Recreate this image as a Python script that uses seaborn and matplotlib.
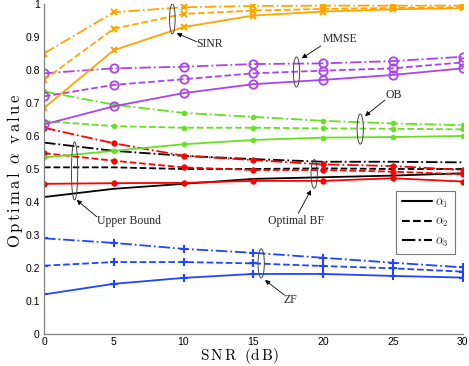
import matplotlib
matplotlib.use("Agg")
import matplotlib.pyplot as plt
from matplotlib.patches import Ellipse
from matplotlib.lines import Line2D
import seaborn as sns
import pandas as pd

sns.set_theme(style="white")
plt.rcParams['mathtext.fontset'] = 'cm'
plt.rcParams['font.family'] = ['Liberation Sans', 'DejaVu Sans']

snr = [0, 5, 10, 15, 20, 25, 30]

sinr_a1 = [0.685, 0.860, 0.930, 0.965, 0.977, 0.984, 0.987]
sinr_a2 = [0.770, 0.925, 0.970, 0.980, 0.985, 0.988, 0.990]
sinr_a3 = [0.850, 0.975, 0.990, 0.994, 0.995, 0.995, 0.995]

mmse_a1 = [0.635, 0.690, 0.730, 0.757, 0.770, 0.785, 0.805]
mmse_a2 = [0.720, 0.755, 0.772, 0.790, 0.798, 0.805, 0.823]
mmse_a3 = [0.790, 0.805, 0.810, 0.818, 0.820, 0.827, 0.840]

ob_a1 = [0.535, 0.555, 0.575, 0.588, 0.595, 0.597, 0.600]
ob_a2 = [0.645, 0.630, 0.625, 0.625, 0.623, 0.622, 0.620]
ob_a3 = [0.735, 0.695, 0.670, 0.658, 0.646, 0.638, 0.633]

bf_a1 = [0.455, 0.457, 0.458, 0.464, 0.464, 0.472, 0.462]
bf_a2 = [0.548, 0.525, 0.505, 0.497, 0.497, 0.492, 0.484]
bf_a3 = [0.625, 0.578, 0.540, 0.527, 0.514, 0.509, 0.497]

ub_a1 = [0.415, 0.440, 0.455, 0.470, 0.475, 0.480, 0.487]
ub_a2 = [0.505, 0.505, 0.500, 0.500, 0.502, 0.500, 0.500]
ub_a3 = [0.580, 0.555, 0.540, 0.530, 0.522, 0.522, 0.520]

zf_a1 = [0.120, 0.152, 0.170, 0.182, 0.182, 0.176, 0.171]
zf_a2 = [0.207, 0.218, 0.218, 0.214, 0.206, 0.199, 0.189]
zf_a3 = [0.290, 0.276, 0.258, 0.246, 0.231, 0.216, 0.202]

legend_labels = [r'$\alpha_1$', r'$\alpha_2$', r'$\alpha_3$']
styles = ['-', '--', '-.']

fig = plt.figure(figsize=(4.69, 3.66), dpi=100)
ax = fig.add_axes([44/469, 1-334/366, 418.5/469, 330/366])

groups = [
    ([ub_a1, ub_a2, ub_a3], 'black', dict(marker=None)),
    ([zf_a1, zf_a2, zf_a3], '#2244ff', dict(marker='+', markersize=6, markeredgewidth=1.5)),
    ([bf_a1, bf_a2, bf_a3], '#ff0000', dict(marker='o', markersize=4, markeredgewidth=0.5)),
    ([ob_a1, ob_a2, ob_a3], '#66e020', dict(marker='o', markersize=3.5, markeredgewidth=0.5)),
    ([mmse_a1, mmse_a2, mmse_a3], '#aa44ee', dict(marker='o', markersize=6, markerfacecolor='none', markeredgewidth=1.3)),
    ([sinr_a1, sinr_a2, sinr_a3], '#ffa500', dict(marker='x', markersize=4.5, markeredgewidth=1.5)),
]
for series, col, mk in groups:
    for vals, ls in zip(series, styles):
        df = pd.DataFrame({'snr': snr, 'val': vals})
        kw = dict(mk)
        if kw.get('marker') is None:
            kw.pop('marker')
        else:
            kw.setdefault('markeredgecolor', col)
        sns.lineplot(data=df, x='snr', y='val', ax=ax, color=col, linestyle=ls,
                     linewidth=1.3, legend=False, **kw)

ax.set_xlim(0, 30)
ax.set_ylim(0, 1)
ax.set_xticks(snr)
ax.set_yticks([i/10 for i in range(11)])
ax.set_yticklabels(['0'] + [f'{i/10:.1f}' for i in range(1, 10)] + ['1'])
ax.tick_params(direction='in', length=3, width=0.8, color='#808080', labelsize=7.5,
               labelcolor='black', pad=3)
ax.tick_params(axis='x', pad=2)
for s in ['top', 'right']:
    ax.spines[s].set_visible(False)
for s in ['left', 'bottom']:
    ax.spines[s].set_color('#808080')
    ax.spines[s].set_linewidth(0.9)

ax.set_xlabel(r'$\mathrm{S\,N\,R}\ \ \mathrm{(d\,B)}$', fontsize=11, color='black', va='center')
ax.set_ylabel(r'$\mathrm{O\,p\,t\,i\,m\,a\,l}\ \ \alpha\ \ \mathrm{v\,a\,l\,u\,e}$', fontsize=12, color='black')
ax.xaxis.set_label_coords((239-44)/418.5, -(356-334)/330)
ax.yaxis.set_label_coords(-(44-25)/418.5, (334-171)/330)

# annotations: ellipses + labels + arrows
ell = [(9.2, 0.955, 0.4, 0.091), (18.1, 0.794, 0.45, 0.091), (22.67, 0.621, 0.45, 0.091),
       (2.19, 0.494, 0.45, 0.176), (19.37, 0.485, 0.45, 0.087), (15.57, 0.214, 0.45, 0.088)]
for cx, cy, w, h in ell:
    ax.add_patch(Ellipse((cx, cy), w, h, fill=False, edgecolor='#444444', linewidth=0.7, zorder=5))

def px2d(px, py):
    return ((px-44)/13.95, (334-py)/330)

notes = [
    ('SINR', (210, 44), (196.7, 41.7), (176.7, 33.3)),
    ('MMSE', (340, 39), (320.7, 46), (301.7, 58.3)),
    ('OB', (394, 95), (385, 100), (365, 116)),
    ('Upper Bound', (128.5, 221), (96.7, 216.7), (76.7, 200)),
    ('Optimal BF', (296, 221), (298.3, 213.3), (311, 190)),
    ('ZF', (290, 300), (284.3, 295), (265, 280)),
]
for txt, tpos, a0, a1 in notes:
    ax.text(*px2d(*tpos), txt, ha='center', va='center', fontsize=8.5,
            family=['Liberation Serif', 'DejaVu Serif'], zorder=6)
    ax.annotate('', xy=px2d(*a1), xytext=px2d(*a0),
                arrowprops=dict(arrowstyle='-|>', color='black', lw=0.6, mutation_scale=7,
                                shrinkA=0, shrinkB=0), zorder=6)

handles = [Line2D([], [], color='black', linestyle=ls, linewidth=1.5) for ls in styles]
leg = ax.legend(handles, legend_labels, loc='upper right',
                bbox_to_anchor=((455-44)/418.5, (334-191)/330), fontsize=9,
                frameon=True, fancybox=False, handlelength=2.4, labelspacing=0.5,
                borderpad=0.45, handletextpad=0.3, borderaxespad=0)
leg.get_frame().set_edgecolor('#555555')
leg.get_frame().set_linewidth(0.8)

fig.savefig('out.png', dpi=100)
